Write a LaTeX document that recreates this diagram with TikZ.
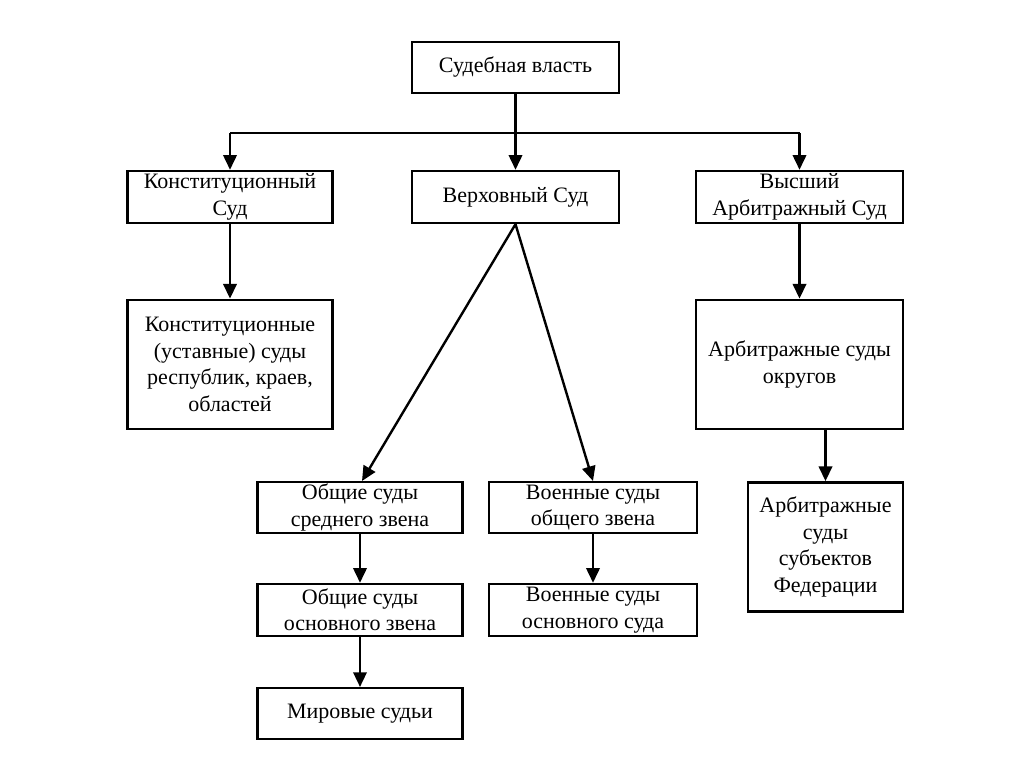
\documentclass[tikz,border=0pt]{standalone}
\usepackage{fontspec}
\setmainfont{Liberation Serif}
\usetikzlibrary{arrows.meta}

\begin{document}
\begin{tikzpicture}[x=0.75pt, y=-0.75pt,
    box/.style={draw, line width=1.8pt, align=center, inner xsep=2pt, inner ysep=0pt,
                font=\fontsize{16.5}{19.8}\selectfont},
    arr/.style={line width=1.8pt, -{Triangle[length=11pt, width=10pt]}},
   ]
    \useasboundingbox (0,0) rectangle (1024,767);
    % top level
    \node (power) [box, minimum width=155pt, minimum height=38pt] at (515.5,67.5) {Судебная власть};
    \node (konst) [box, minimum width=154pt, minimum height=39pt] at (230,197) {Конституционный\\Суд};
    \node (verh)  [box, minimum width=155pt, minimum height=39pt] at (515.5,197) {Верховный Суд};
    \node (vas)   [box, minimum width=155pt, minimum height=39pt] at (799.5,197) {Высший\\Арбитражный Суд};
    % lower levels
    \node (konstrep) [box, minimum width=154pt, minimum height=97pt] at (230,364.5)
          {Конституционные\\(уставные) суды\\республик, краев,\\областей};
    \node (arbokr) [box, minimum width=155pt, minimum height=97pt] at (799.5,364.5)
          {Арбитражные суды\\округов};
    \node (arbsub) [box, minimum width=116pt, minimum height=97pt] at (825.5,547)
          {Арбитражные\\суды\\субъектов\\Федерации};
    \node (obsred)  [box, minimum width=154pt, minimum height=38pt] at (360,507.5) {Общие суды\\среднего звена};
    \node (voen)    [box, minimum width=156pt, minimum height=38pt] at (593,507.5) {Военные суды\\общего звена};
    \node (obosn)   [box, minimum width=154pt, minimum height=39pt] at (360,610) {Общие суды\\основного звена};
    \node (voenosn) [box, minimum width=156pt, minimum height=39pt] at (593,610) {Военные суды\\основного суда};
    \node (mir)     [box, minimum width=154pt, minimum height=38pt] at (360,713.5) {Мировые судьи};

    \coordinate (bus) at (515.5,133);
    \draw[line width=1.8pt] (power.south) -- (bus)
          (konst.north |- bus) -- (vas.north |- bus);
    \foreach \n in {konst, verh, vas}
      \draw[arr] (\n.north |- bus) -- (\n.north);
    \draw[arr] (konst) -- (konstrep);
    \draw[arr] (vas) -- (arbokr);
    \draw[arr] (arbsub.north |- arbokr.south) -- (arbsub.north);
    \draw[arr] (verh.south) -- ([xshift=1.5pt]obsred.north);
    \draw[arr] (verh.south) -- (voen.north);
    \draw[arr] (obsred) -- (obosn);
    \draw[arr] (voen) -- (voenosn);
    \draw[arr] (obosn) -- (mir);
\end{tikzpicture}
\end{document}
